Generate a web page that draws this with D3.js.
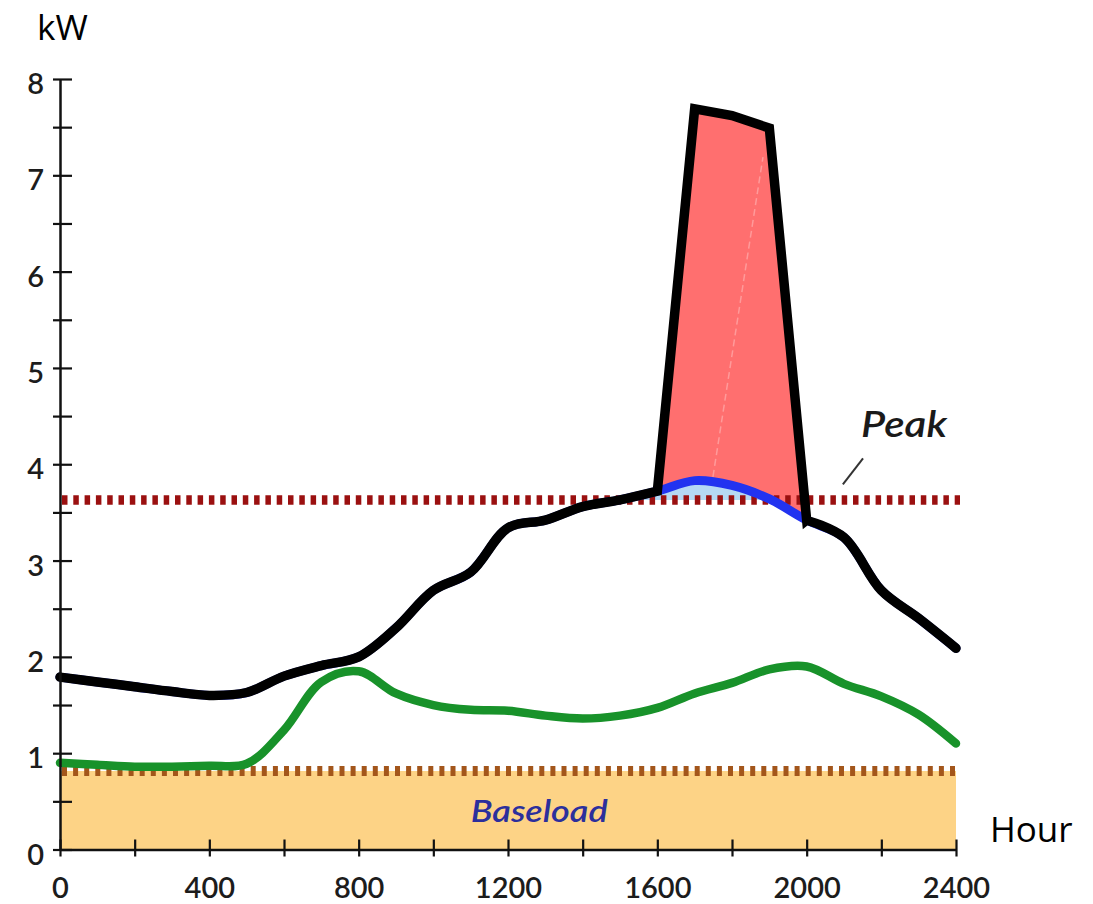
<!DOCTYPE html>
<html>
<head>
<meta charset="utf-8">
<script src="https://cdn.jsdelivr.net/npm/d3@7/dist/d3.min.js"></script>
<style>
  html, body { margin: 0; padding: 0; background: #fff; }
  svg { display: block; }
</style>
</head>
<body>
<svg id="chart" width="1093" height="904"></svg>
<script>
// ---------- data ----------
const hours = [0,100,200,300,400,500,600,700,800,900,1000,1100,1200,1300,1400,1500,1600,1700,1800,1900,2000,2100,2200,2300,2400];
// total load with the peak appliance (black)
const loadWithPeak = [1.79,1.74,1.69,1.64,1.60,1.63,1.80,1.91,2.00,2.30,2.69,2.88,3.34,3.42,3.56,3.63,3.72,7.69,7.62,7.49,3.42,3.24,2.69,2.40,2.09];
// total load with the peak appliance shifted (blue)
const loadShifted = [1.79,1.74,1.69,1.64,1.60,1.63,1.80,1.91,2.00,2.30,2.69,2.88,3.34,3.42,3.56,3.63,3.72,3.83,3.78,3.64,3.42,3.24,2.69,2.40,2.09];
// other load (green)
const otherLoad = [0.90,0.88,0.86,0.86,0.87,0.89,1.24,1.74,1.85,1.62,1.50,1.45,1.44,1.39,1.36,1.39,1.47,1.62,1.73,1.87,1.90,1.72,1.59,1.40,1.10];
const baseload = 0.815;
const peakLevel = 3.63;
const peakStart = 1600, peakEnd = 2000;
const xTickValues = d3.range(0, 2401, 200);
const xLabelValues = [0,400,800,1200,1600,2000,2400];
const yTickValues = d3.range(0, 8.01, 0.5);
const yLabelValues = [0,1,2,3,4,5,6,7,8];
const peakPointer = [[2097,3.79],[2151,4.06]];
const faintStreak = [[1749,3.87],[1883,7.19]];
const baseloadLabelHour = 1100;

// ---------- scales ----------
const svg = d3.select("#chart");
const x = d3.scaleLinear().domain([0,2400]).range([60,956]);
const y = d3.scaleLinear().domain([0,8]).range([849.5,79]);
const smoothCurve = d3.curveCatmullRom.alpha(0.5);

const black = hours.map((h,i)=>({h, v: loadWithPeak[i]}));
const blue = hours.map((h,i)=>({h, v: loadShifted[i]}));
const green = hours.map((h,i)=>({h, v: otherLoad[i]}));

const defs = svg.append("defs");

// baseload fill
svg.append("rect")
  .attr("x", x(0)).attr("y", y(baseload))
  .attr("width", x(2400)-x(0)).attr("height", y(0)-y(baseload))
  .attr("fill", "#FDD386");

// baseload dotted line
svg.append("line")
  .attr("x1", x(0)+2).attr("x2", x(2400)+2)
  .attr("y1", y(baseload)).attr("y2", y(baseload))
  .attr("stroke", "#A3561B").attr("stroke-width", 10)
  .attr("stroke-dasharray", "5 6.1");

// clip: region above the blue curve
defs.append("clipPath").attr("id","aboveBlue")
  .append("path")
  .attr("d", d3.area().x(d=>x(d.h)).y0(0).y1(d=>y(d.v)).curve(smoothCurve)(blue));
// clip: region above peak line
defs.append("clipPath").attr("id","abovePeak")
  .append("rect").attr("x",0).attr("y",0).attr("width",1093).attr("height",y(peakLevel));

// light blue region between shifted load and peak level
svg.append("path")
  .attr("clip-path","url(#abovePeak)")
  .attr("d", d3.area().x(d=>x(d.h)).y0(y(peakLevel)).y1(d=>y(d.v)).curve(smoothCurve)(blue))
  .attr("fill","#B5D8F4");

// red region (peak load above shifted load)
const blackPeak = black.filter(d=>d.h>=peakStart && d.h<=peakEnd);
svg.append("path")
  .attr("clip-path","url(#aboveBlue)")
  .attr("d", d3.area().x(d=>x(d.h)).y0(y(0)).y1(d=>y(d.v)).curve(d3.curveLinear)(blackPeak))
  .attr("fill","#FF6F6F");

// faint streak inside red
svg.append("line")
  .attr("x1", x(faintStreak[0][0])).attr("y1", y(faintStreak[0][1]))
  .attr("x2", x(faintStreak[1][0])).attr("y2", y(faintStreak[1][1]))
  .attr("stroke","rgba(255,255,255,0.3)").attr("stroke-width",1.5)
  .attr("stroke-dasharray","7 4");

// peak dotted line
svg.append("line")
  .attr("x1", x(0)+2).attr("x2", x(2400)+4)
  .attr("y1", y(peakLevel)).attr("y2", y(peakLevel))
  .attr("stroke", "#9B1010").attr("stroke-width", 9.5)
  .attr("stroke-dasharray", "5.5 5.8");

// blue line
svg.append("path")
  .attr("d", d3.line().x(d=>x(d.h)).y(d=>y(d.v)).curve(smoothCurve)(blue))
  .attr("fill","none").attr("stroke","#2233F0").attr("stroke-width",9)
  .attr("stroke-linejoin","round").attr("stroke-linecap","round");

// black line: smooth before/after the peak, straight edges for the peak
const smoothLine = d3.line().x(d=>x(d.h)).y(d=>y(d.v)).curve(smoothCurve);
const seg1 = black.filter(d=>d.h<=peakStart);
const seg3 = black.filter(d=>d.h>=peakEnd);
let dBlack = smoothLine(seg1);
blackPeak.slice(1).forEach(d=>{ dBlack += "L" + x(d.h) + "," + y(d.v); });
dBlack += smoothLine(seg3).replace(/^M[^A-Za-z]*/, "");
svg.append("path")
  .attr("d", dBlack)
  .attr("fill","none").attr("stroke","#000").attr("stroke-width",9.5)
  .attr("stroke-linejoin","miter").attr("stroke-miterlimit",4).attr("stroke-linecap","round");

// green line
svg.append("path")
  .attr("d", d3.line().x(d=>x(d.h)).y(d=>y(d.v)).curve(smoothCurve)(green))
  .attr("fill","none").attr("stroke","#18922A").attr("stroke-width",8.5)
  .attr("stroke-linejoin","round").attr("stroke-linecap","round");

// ---------- axes ----------
const tickFont = "Lato, 'Open Sans', sans-serif";
const yAxis = svg.append("g").attr("transform",`translate(${x(0)},0)`)
  .call(d3.axisLeft(y).tickValues(yTickValues).tickSizeInner(7).tickSizeOuter(0).tickPadding(9)
    .tickFormat(v => yLabelValues.includes(v) ? d3.format("d")(v) : ""));
const xAxis = svg.append("g").attr("transform",`translate(0,${y(0)})`)
  .call(d3.axisBottom(x).tickValues(xTickValues).tickSizeInner(7).tickSizeOuter(0).tickPadding(21)
    .tickFormat(v => xLabelValues.includes(v) ? d3.format("d")(v) : ""));

[yAxis, xAxis].forEach(g=>{
  g.select(".domain").attr("stroke","#111").attr("stroke-width",2.5);
  g.selectAll(".tick line").attr("stroke","#111").attr("stroke-width",2.2);
  g.selectAll(".tick text").attr("fill","#1c1c1c").style("font-family",tickFont)
    .style("font-size","29px").style("font-weight","600");
});
yAxis.selectAll(".tick line").attr("x1", 12);
yAxis.selectAll(".tick text").attr("dy","0.5em");
xAxis.selectAll(".tick line").attr("y1", -10);

// ---------- texts ----------
svg.append("text").attr("x",37).attr("y",40).text("kW")
  .style("font-family","'Open Sans', sans-serif").style("font-size","35px").attr("fill","#000");
svg.append("text").attr("x",990).attr("y",842).text("Hour")
  .style("font-family","'Open Sans', sans-serif").style("font-size","35px").attr("fill","#000");

svg.append("text").attr("x", x(baseloadLabelHour)).attr("y", 822).text("Baseload")
  .attr("textLength",137).attr("lengthAdjust","spacingAndGlyphs")
  .style("font-family",tickFont).style("font-style","italic").style("font-weight","600")
  .style("font-size","30px").attr("fill","#2C2F9C");

svg.append("text").attr("x",861).attr("y",437).text("Peak")
  .attr("textLength",86).attr("lengthAdjust","spacingAndGlyphs")
  .style("font-family",tickFont).style("font-style","italic").style("font-weight","600")
  .style("font-size","36px").attr("fill","#1a1a1a");

svg.append("line")
  .attr("x1", x(peakPointer[0][0])).attr("y1", y(peakPointer[0][1]))
  .attr("x2", x(peakPointer[1][0])).attr("y2", y(peakPointer[1][1]))
  .attr("stroke","#333").attr("stroke-width",2);
</script>
</body>
</html>
